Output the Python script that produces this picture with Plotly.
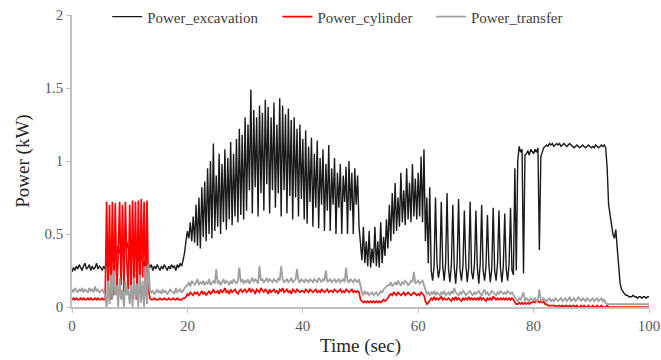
import plotly.graph_objects as go

# sampling step of the recorded signals (sec)
t_step = 0.25

power_excavation = [
    0.24,0.27,0.25,0.28,0.26,0.29,0.27,0.25,0.28,0.30,0.26,0.27,0.29,0.25,0.28,0.26,0.27,0.30,0.26,0.28,
    0.27,0.25,0.28,0.26,0.30,0.33,0.28,0.35,0.31,0.38,0.33,0.36,0.42,0.37,0.40,0.45,0.41,0.47,0.44,0.40,
    0.36,0.33,0.38,0.34,0.40,0.36,0.33,0.30,0.35,0.31,0.28,0.32,0.29,0.30,0.27,0.29,0.25,0.28,0.26,0.29,
    0.27,0.25,0.28,0.26,0.29,0.27,0.25,0.28,0.26,0.29,0.27,0.28,0.25,0.29,0.27,0.30,0.28,0.32,0.37,0.45,
    0.52,0.47,0.58,0.45,0.62,0.44,0.70,0.42,0.75,0.40,0.82,0.48,0.86,0.45,0.95,0.50,1.00,0.47,1.12,0.52,
    0.90,0.55,1.05,0.50,0.98,0.58,1.08,0.53,1.02,0.60,1.13,0.56,1.05,0.62,1.15,0.58,1.22,0.63,1.18,0.60,
    1.30,0.66,1.25,0.80,1.49,0.64,1.35,0.82,1.30,0.62,1.38,0.78,1.33,0.66,1.42,0.84,1.37,0.64,1.30,0.80,
    1.40,0.68,1.25,0.78,1.43,0.62,1.38,0.80,1.32,0.64,1.36,0.76,1.28,0.60,1.30,0.75,1.22,0.62,1.25,0.74,
    1.15,0.60,1.21,0.57,1.10,0.72,1.16,0.55,1.05,0.68,1.14,0.54,1.02,0.70,1.08,0.52,0.98,0.66,1.11,0.52,
    0.95,0.70,1.02,0.50,0.92,0.68,0.98,0.50,0.90,0.72,0.96,0.50,1.00,0.66,0.92,0.50,0.95,0.70,0.90,0.55,
    0.42,0.32,0.55,0.30,0.45,0.28,0.52,0.27,0.40,0.30,0.55,0.28,0.45,0.27,0.58,0.30,0.48,0.35,0.60,0.40,
    0.70,0.45,0.78,0.50,0.85,0.52,0.75,0.55,0.92,0.58,0.80,0.56,0.95,0.60,0.85,0.58,0.98,0.62,0.88,0.60,
    0.92,0.62,1.03,0.58,1.08,0.45,0.75,0.30,0.82,0.25,0.18,0.28,0.75,0.30,0.20,0.26,0.72,0.28,0.18,0.30,
    0.78,0.26,0.17,0.29,0.70,0.27,0.16,0.30,0.74,0.25,0.18,0.28,0.66,0.30,0.17,0.27,0.72,0.24,0.19,0.29,
    0.66,0.27,0.16,0.30,0.70,0.25,0.18,0.28,0.63,0.29,0.17,0.26,0.68,0.25,0.18,0.30,0.66,0.27,0.17,0.28,
    0.64,0.26,0.18,0.30,0.68,0.25,0.22,0.95,0.25,1.00,1.10,1.06,1.08,0.23,1.04,1.05,1.07,1.04,1.08,1.06,
    1.05,1.08,1.06,1.09,0.39,1.03,1.07,1.09,1.10,1.11,1.10,1.12,1.11,1.12,1.10,1.11,1.12,1.11,1.12,1.10,
    1.11,1.12,1.11,1.10,1.11,1.12,1.11,1.10,1.09,1.10,1.11,1.10,1.09,1.10,1.11,1.10,1.09,1.10,1.11,1.10,
    1.09,1.10,1.09,1.11,1.10,1.09,1.10,1.11,1.10,1.11,1.09,0.95,0.70,0.62,0.55,0.50,0.47,0.53,0.40,0.25,
    0.16,0.12,0.10,0.09,0.08,0.08,0.07,0.07,0.07,0.08,0.07,0.07,0.06,0.07,0.07,0.06,0.07,0.07,0.06,0.07,
    0.07,
]

power_cylinder = [
    0.05,0.06,0.05,0.06,0.05,0.05,0.06,0.05,0.06,0.05,0.05,0.06,0.05,0.06,0.05,0.05,0.06,0.05,0.06,0.05,
    0.05,0.06,0.05,0.05,0.72,0.10,0.70,0.05,0.72,0.08,0.71,0.12,0.35,0.72,0.15,0.70,0.10,0.72,0.30,0.12,
    0.70,0.08,0.73,0.15,0.72,0.05,0.73,0.10,0.74,0.20,0.72,0.08,0.73,0.12,0.06,0.05,0.05,0.06,0.05,0.05,
    0.05,0.06,0.05,0.05,0.06,0.05,0.05,0.06,0.05,0.05,0.06,0.05,0.05,0.06,0.05,0.05,0.05,0.06,0.06,0.07,
    0.09,0.08,0.10,0.09,0.08,0.10,0.09,0.10,0.08,0.09,0.11,0.09,0.10,0.08,0.10,0.11,0.09,0.10,0.12,0.10,
    0.10,0.11,0.09,0.12,0.10,0.11,0.13,0.10,0.11,0.09,0.12,0.10,0.11,0.12,0.10,0.09,0.11,0.12,0.10,0.11,
    0.12,0.10,0.11,0.13,0.10,0.12,0.11,0.09,0.12,0.11,0.10,0.13,0.11,0.10,0.12,0.11,0.09,0.12,0.10,0.11,
    0.12,0.10,0.11,0.09,0.12,0.11,0.13,0.10,0.11,0.12,0.10,0.11,0.09,0.12,0.11,0.10,0.12,0.11,0.10,0.11,
    0.11,0.10,0.12,0.11,0.10,0.12,0.11,0.10,0.11,0.12,0.10,0.11,0.10,0.12,0.11,0.10,0.11,0.12,0.10,0.11,
    0.11,0.10,0.12,0.11,0.10,0.11,0.12,0.10,0.11,0.10,0.12,0.11,0.10,0.11,0.12,0.10,0.11,0.10,0.11,0.10,
    0.05,0.04,0.03,0.04,0.03,0.04,0.03,0.04,0.03,0.04,0.03,0.04,0.03,0.04,0.03,0.04,0.05,0.04,0.05,0.06,
    0.08,0.09,0.08,0.10,0.09,0.08,0.10,0.09,0.08,0.09,0.10,0.08,0.09,0.10,0.09,0.08,0.09,0.10,0.09,0.08,
    0.09,0.08,0.10,0.09,0.08,0.04,0.02,0.03,0.05,0.06,0.05,0.07,0.05,0.06,0.05,0.06,0.07,0.05,0.06,0.05,
    0.05,0.06,0.05,0.04,0.06,0.05,0.07,0.05,0.06,0.05,0.04,0.06,0.05,0.06,0.05,0.07,0.05,0.06,0.05,0.06,
    0.05,0.06,0.05,0.07,0.05,0.06,0.05,0.04,0.06,0.05,0.06,0.05,0.07,0.06,0.05,0.06,0.05,0.06,0.05,0.06,
    0.05,0.06,0.05,0.06,0.05,0.06,0.05,0.03,0.02,0.02,0.03,0.02,0.03,0.02,0.03,0.02,0.03,0.02,0.03,0.03,
    0.04,0.03,0.04,0.04,0.03,0.04,0.03,0.04,0.02,0.02,0.01,0.01,0.01,0.01,0.01,0.01,0.00,0.01,0.01,0.00,
    0.01,0.00,0.01,0.01,0.00,0.01,0.00,0.01,0.01,0.00,0.01,0.00,0.00,0.01,0.00,0.01,0.00,0.00,0.01,0.00,
    0.00,0.01,0.00,0.00,0.01,0.00,0.00,0.01,0.00,0.00,0.00,0.01,0.00,0.00,0.00,0.00,0.00,0.00,0.00,0.00,
    0.00,0.00,0.00,0.00,0.00,0.00,0.00,0.00,0.00,0.00,0.00,0.00,0.00,0.00,0.00,0.00,0.00,0.00,0.00,0.00,
    0.00,
]

power_transfer = [
    0.12,0.10,0.13,0.11,0.10,0.12,0.11,0.13,0.10,0.12,0.11,0.10,0.13,0.11,0.12,0.10,0.14,0.11,0.12,0.10,
    0.11,0.12,0.10,0.08,0.00,0.18,0.02,0.22,0.05,0.25,0.08,0.15,0.00,0.20,0.05,0.12,0.00,0.18,0.08,0.12,
    0.02,0.15,0.00,0.20,0.05,0.16,0.00,0.22,0.03,0.18,0.00,0.28,0.02,0.30,0.12,0.10,0.11,0.09,0.10,0.12,
    0.10,0.11,0.09,0.12,0.10,0.11,0.09,0.10,0.12,0.11,0.10,0.09,0.13,0.10,0.11,0.12,0.10,0.11,0.13,0.14,
    0.15,0.17,0.14,0.18,0.16,0.15,0.17,0.19,0.15,0.17,0.16,0.18,0.15,0.17,0.16,0.19,0.15,0.17,0.18,0.16,
    0.26,0.16,0.18,0.15,0.17,0.19,0.16,0.18,0.17,0.15,0.18,0.16,0.19,0.17,0.16,0.18,0.27,0.17,0.19,0.16,
    0.18,0.17,0.19,0.16,0.18,0.20,0.17,0.19,0.18,0.16,0.28,0.18,0.19,0.17,0.18,0.20,0.17,0.19,0.18,0.17,
    0.19,0.18,0.17,0.20,0.18,0.28,0.19,0.17,0.18,0.19,0.17,0.18,0.20,0.17,0.18,0.19,0.26,0.18,0.17,0.19,
    0.18,0.17,0.19,0.18,0.17,0.19,0.18,0.17,0.19,0.18,0.17,0.20,0.18,0.17,0.19,0.18,0.25,0.17,0.18,0.19,
    0.17,0.18,0.19,0.17,0.18,0.19,0.17,0.18,0.19,0.17,0.27,0.18,0.17,0.19,0.18,0.17,0.19,0.18,0.17,0.19,
    0.14,0.10,0.08,0.11,0.09,0.10,0.08,0.09,0.10,0.08,0.09,0.10,0.08,0.09,0.11,0.10,0.12,0.13,0.14,0.15,
    0.15,0.17,0.14,0.16,0.17,0.15,0.18,0.16,0.15,0.17,0.16,0.18,0.17,0.15,0.16,0.18,0.17,0.24,0.16,0.17,
    0.18,0.16,0.17,0.18,0.15,0.12,0.09,0.10,0.08,0.10,0.09,0.11,0.08,0.10,0.09,0.08,0.10,0.09,0.11,0.08,
    0.09,0.10,0.08,0.11,0.09,0.13,0.10,0.09,0.08,0.10,0.09,0.11,0.10,0.08,0.09,0.10,0.11,0.09,0.08,0.10,
    0.09,0.10,0.11,0.09,0.08,0.10,0.12,0.09,0.10,0.08,0.09,0.11,0.10,0.09,0.08,0.10,0.09,0.11,0.10,0.09,
    0.10,0.09,0.11,0.10,0.09,0.10,0.08,0.06,0.05,0.04,0.06,0.05,0.07,0.10,0.04,0.06,0.05,0.04,0.06,0.05,
    0.05,0.06,0.04,0.05,0.12,0.05,0.04,0.06,0.05,0.04,0.05,0.06,0.04,0.05,0.04,0.06,0.05,0.04,0.05,0.06,
    0.04,0.05,0.06,0.04,0.05,0.07,0.04,0.05,0.06,0.04,0.05,0.07,0.05,0.04,0.06,0.05,0.04,0.06,0.05,0.04,
    0.05,0.06,0.04,0.05,0.06,0.04,0.05,0.06,0.04,0.05,0.03,0.02,0.02,0.02,0.02,0.02,0.02,0.02,0.02,0.02,
    0.02,0.02,0.02,0.02,0.02,0.02,0.02,0.02,0.02,0.02,0.02,0.02,0.02,0.02,0.02,0.02,0.02,0.02,0.02,0.02,
    0.02,
]

series_names = ["Power_excavation", "Power_cylinder", "Power_transfer"]
x_ticks = [0, 20, 40, 60, 80, 100]
y_ticks = [0, 0.5, 1, 1.5, 2]
y_tick_labels = ["0", "0.5", "1", "1.5", "2"]

def times(n):
    return [round(i * t_step, 2) for i in range(n)]

fig = go.Figure()
fig.add_trace(go.Scatter(x=times(len(power_excavation)), y=power_excavation, mode="lines",
                         name=series_names[0], line=dict(color="#1a1a1a", width=1.4), legend="legend"))
fig.add_trace(go.Scatter(x=times(len(power_cylinder)), y=power_cylinder, mode="lines",
                         name=series_names[1], line=dict(color="#ff0000", width=1.7), legend="legend2"))
fig.add_trace(go.Scatter(x=times(len(power_transfer)), y=power_transfer, mode="lines",
                         name=series_names[2], line=dict(color="#a0a0a0", width=1.8), legend="legend3"))

legend_common = dict(orientation="h", y=1.05, xanchor="left", yanchor="top",
                     font=dict(size=15, color="#404040"), bgcolor="rgba(0,0,0,0)", itemwidth=30)

fig.update_layout(
    width=661, height=360,
    margin=dict(l=72, r=12, t=15, b=53, autoexpand=False),
    plot_bgcolor="white", paper_bgcolor="white",
    font=dict(family="Liberation Serif", color="#404040"),
    legend=dict(x=0.061, **legend_common),
    legend2=dict(x=0.356, **legend_common),
    legend3=dict(x=0.622, **legend_common),
    showlegend=True,
)
fig.update_xaxes(range=[0, 100], tickvals=x_ticks, showline=True, linecolor="#c0c0c0", linewidth=1.5,
                 ticks="outside", ticklen=4, tickcolor="#c0c0c0", showgrid=False, zeroline=False,
                 tickfont=dict(size=15, color="#595959"), ticklabeloverflow="allow", automargin=False,
                 title=dict(text="Time (sec)", font=dict(size=19, color="#262626"), standoff=6))
fig.update_yaxes(range=[0, 2], tickvals=y_ticks, ticktext=y_tick_labels, showline=True,
                 linecolor="#c0c0c0", linewidth=1.5, ticks="outside", ticklen=4, tickcolor="#c0c0c0",
                 showgrid=False, zeroline=False, tickfont=dict(size=15, color="#595959"), automargin=False,
                 title=dict(text="Power (kW)", font=dict(size=19, color="#262626"), standoff=10))

fig.write_html("out.html")
